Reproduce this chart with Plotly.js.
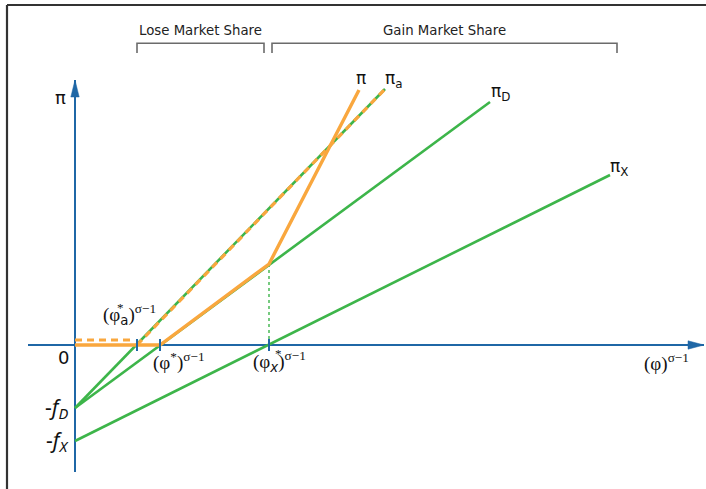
<!DOCTYPE html>
<html>
<head>
<meta charset="utf-8">
<script src="https://cdn.plot.ly/plotly-3.0.1.min.js"></script>
<style>
  html, body { margin: 0; padding: 0; background: #fff; }
  #chart { width: 706px; height: 489px; }
</style>
</head>
<body>
<div id="chart"></div>
<script>
// Profit lines of the Melitz model: productivity (φ)^(σ−1) on x, profit π on y.
const fD = 6.3;            // fixed cost of domestic production
const fX = 9.6;            // fixed cost of exporting
const phiA = 6.2;          // autarky cutoff (φ*_a)^(σ−1)
const phiStar = 8.5;       // trade cutoff (φ*)^(σ−1)
const phiX = 19.4;         // export cutoff (φ*_x)^(σ−1)

// π_D and π_X : straight lines starting at −f_D and −f_X
const piD_x = [0, 41.5];
const piD_y = [-fD, 24.3];
const piX_x = [0, 53.5];
const piX_y = [-fX, 17.0];
// π_a : autarky profit line
const piA_x = [0, 31.0];
const piA_y = [-fD, 25.6];
// π : total profit with trade (zero below φ*, then π_D, then π_D + π_X)
const pi_x = [0, phiStar, phiX, 28.4];
const pi_y = [0, 0, 8.1, 25.5];
// autarky profit, dashed (zero until φ*_a, then along π_a)
const piAut_x = [0, 6.0, null, phiA, 31.0];
const piAut_y = [0.5, 0.5, null, 0, 25.6];
// export cutoff guide
const guide_x = [phiX, phiX];
const guide_y = [0, 8.1];

// axes extents
const xAxisSpan = [-4.7, 62.9];
const yAxisSpan = [-12.7, 26.5];
const cutoffs = [phiA, phiStar, phiX];

// market-share brackets
const loseSpan = [6.2, 18.9];
const gainSpan = [19.7, 54.2];
const bracketTop = 30.17, bracketLeg = 29.2;

const BLUE = '#1f67a6', GREEN = '#3db54a', ORANGE = '#f9a73e', GREY = '#6b6b6b';

const traces = [];
function line(x, y, color, width, dash) {
  traces.push({ x: x, y: y, mode: 'lines', hoverinfo: 'skip', showlegend: false,
    line: { color: color, width: width, dash: dash || 'solid' } });
}
function bracket(span) {
  line([span[0], span[0], span[1], span[1]], [bracketLeg, bracketTop, bracketTop, bracketLeg], GREY, 1.6);
}

// axes
line(xAxisSpan, [0, 0], BLUE, 2);
line([0, 0], yAxisSpan, BLUE, 2);
// arrowheads built from the axis tips
const xTip = xAxisSpan[1], yTip = yAxisSpan[1];
traces.push({ x: [xTip, xTip - 1.6, xTip - 1.6, xTip], y: [0, 0.42, -0.42, 0], mode: 'lines',
  fill: 'toself', fillcolor: BLUE, line: { color: BLUE, width: 0.5 }, hoverinfo: 'skip', showlegend: false });
traces.push({ x: [0, 0.42, -0.42, 0], y: [yTip, yTip - 1.7, yTip - 1.7, yTip], mode: 'lines',
  fill: 'toself', fillcolor: BLUE, line: { color: BLUE, width: 0.5 }, hoverinfo: 'skip', showlegend: false });

// profit lines
line(guide_x, guide_y, GREEN, 1.4, 'dot');
line(piX_x, piX_y, GREEN, 2.6);
line(piD_x, piD_y, GREEN, 2.6);
line(piA_x, piA_y, GREEN, 2.6);
line(pi_x, pi_y, ORANGE, 3.4);
line(piAut_x, piAut_y, ORANGE, 3.2, '7px,5px');

// cutoff ticks on the x axis
cutoffs.forEach(c => line([c, c], [-0.6, 0.6], BLUE, 2));

bracket(loseSpan);
bracket(gainSpan);

const SANS = 'DejaVu Sans, Verdana, sans-serif';
const SERIF = 'Liberation Serif, Times New Roman, serif';
const INK = '#111';
function label(x, y, text, size, family, extra) {
  return Object.assign({ x: x, y: y, xref: 'x', yref: 'y', text: text, showarrow: false,
    font: { size: size, family: family, color: INK } }, extra || {});
}
const LBL = 19;     // size of the cutoff labels
const STAR = 13;    // size of the stars above the subscripts

const annotations = [
  label((loseSpan[0] + loseSpan[1]) / 2, 31.43, 'Lose Market Share', 13.3, SANS, { font: { size: 13.3, family: SANS, color: '#222' } }),
  label((gainSpan[0] + gainSpan[1]) / 2, 31.43, 'Gain Market Share', 13.3, SANS, { font: { size: 13.3, family: SANS, color: '#222' } }),
  // axis names
  label(-1.5, 24.8, 'π', 18, SANS),
  label(59.1, -1.7, '(φ)<sup>σ−1</sup>', LBL, SERIF),
  label(-1.2, -1.2, '0', 18, SANS),
  label(-0.5, -6.3, '-<i>f</i><sub><i>D</i></sub>', 21, 'Noto Sans, sans-serif', { xanchor: 'right' }),
  label(-0.5, -9.6, '-<i>f</i><sub><i>X</i></sub>', 21, 'Noto Sans, sans-serif', { xanchor: 'right' }),
  // cutoff names
  label(5.4, 3.1, '(φ<sub><span style="font-family:DejaVu Sans">a</span></sub>)<sup>σ−1</sup>', LBL, SERIF),
  label(4.55, 3.75, '*', STAR, SERIF),
  label(10.4, -1.6, '(φ<sup>*</sup>)<sup>σ−1</sup>', LBL, SERIF),
  label(20.4, -1.6, '(φ<sub><i><span style="font-family:DejaVu Sans">x</span></i></sub>)<sup>σ−1</sup>', LBL, SERIF),
  label(20.35, -0.85, '*', STAR, SERIF),
  // line names
  label(28.6, 26.7, 'π', 17, SANS),
  label(31.9, 26.6, 'π<sub>a</sub>', 17, SANS),
  label(42.5, 25.3, 'π<sub>D</sub>', 17, SANS),
  label(54.4, 17.8, 'π<sub>X</sub>', 17, SANS)
];

// frame along the top and left edges
const shapes = [
  { type: 'line', xref: 'paper', yref: 'paper', x0: 7 / 706, x1: 1, y0: 1 - 5 / 489, y1: 1 - 5 / 489, line: { color: '#333', width: 2.2 } },
  { type: 'line', xref: 'paper', yref: 'paper', x0: 7 / 706, x1: 7 / 706, y0: 0, y1: 1 - 5 / 489, line: { color: '#333', width: 2.2 } }
];

const layout = {
  width: 706, height: 489,
  margin: { l: 0, r: 0, t: 0, b: 0 },
  paper_bgcolor: '#fff', plot_bgcolor: '#fff',
  xaxis: { range: [-7.5, 63.1], visible: false, fixedrange: true },
  yaxis: { range: [-14.4, 34.5], visible: false, fixedrange: true },
  showlegend: false,
  annotations: annotations,
  shapes: shapes
};

Plotly.newPlot('chart', traces, layout, { staticPlot: true, displayModeBar: false });
</script>
</body>
</html>
